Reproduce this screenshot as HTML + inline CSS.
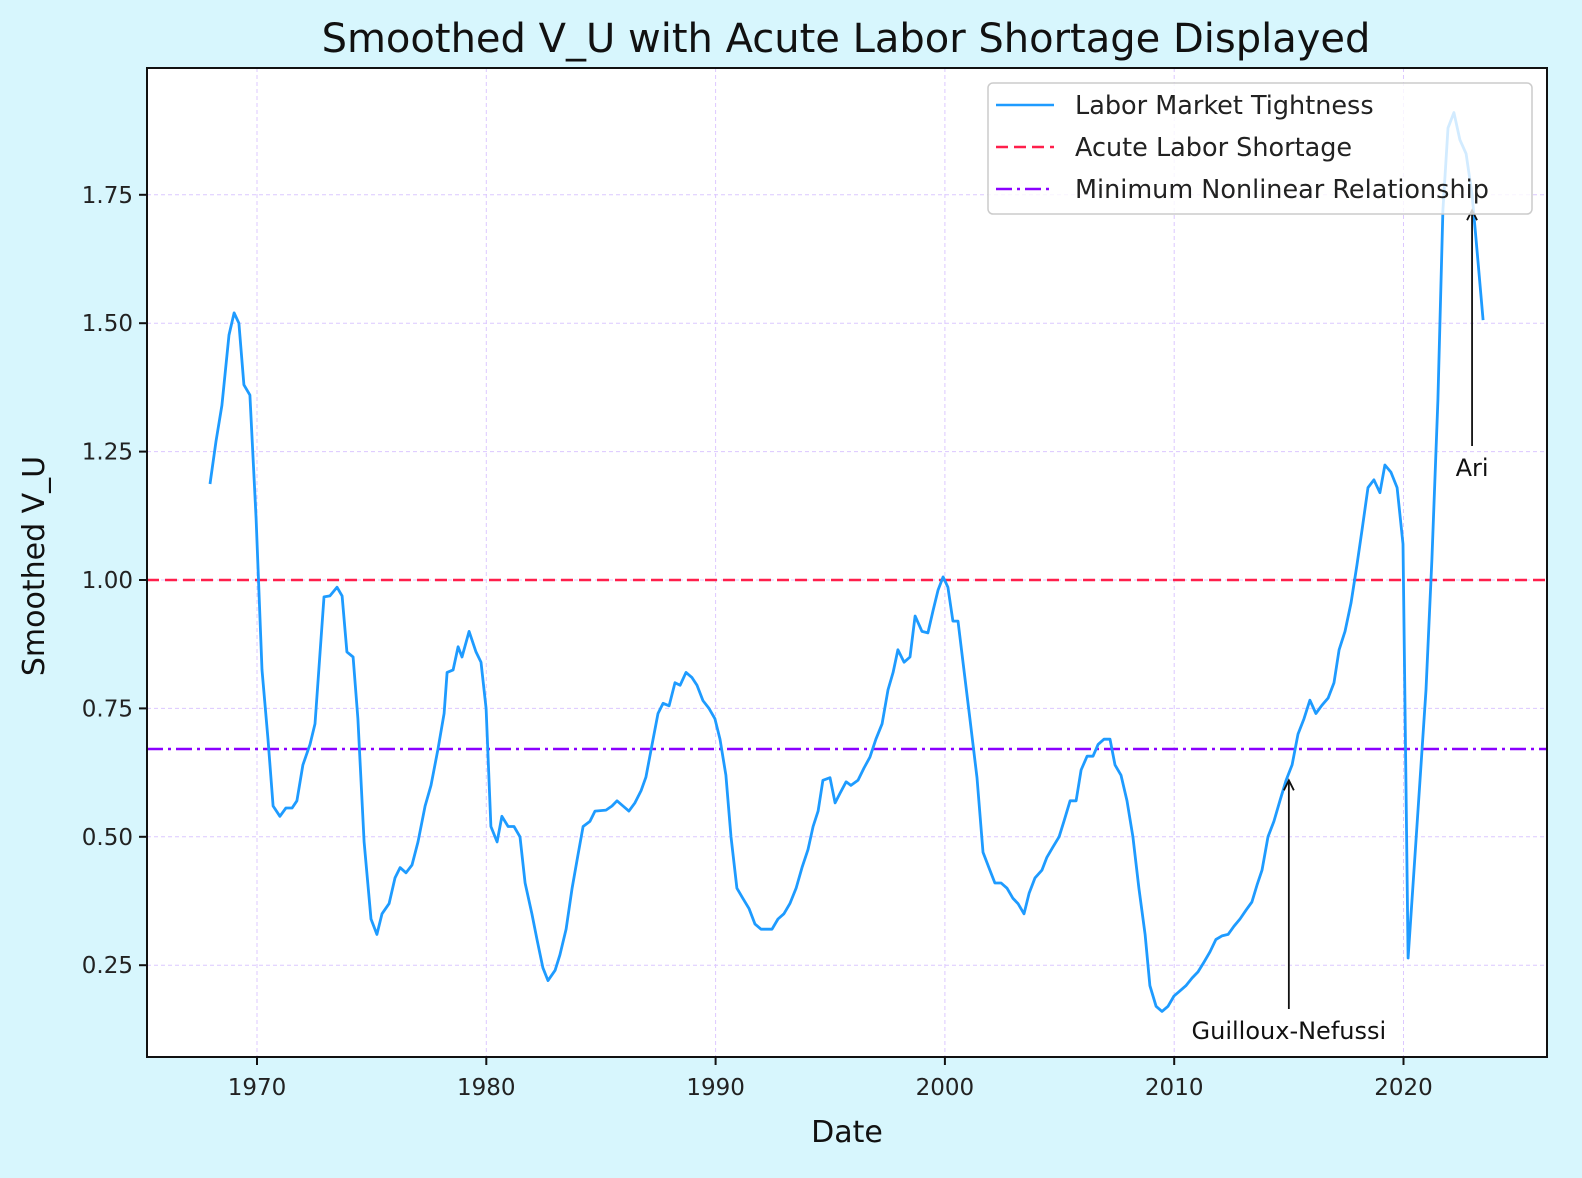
<!DOCTYPE html>
<html><head><meta charset="utf-8"><style>
html,body{margin:0;padding:0;background:#d7f6fd;}
svg{display:block;font-family:"DejaVu Sans","Liberation Sans",sans-serif;}
</style></head><body>
<svg id="chart" width="1582" height="1178" viewBox="0 0 1582 1178">
<rect x="0" y="0" width="1582" height="1178" fill="#d7f6fd"/>
<text x="846" y="52" font-size="40" text-anchor="middle" fill="#111">Smoothed V_U with Acute Labor Shortage Displayed</text>
<rect x="147" y="68" width="1400" height="989" fill="#fff"/>
<g id="grid"></g>
<g id="refs"></g>
<g id="series"></g>
<g id="annots"></g>
<g id="legend"></g>
<rect x="147" y="68" width="1400" height="989" fill="none" stroke="#111" stroke-width="2"/>
<g id="axes"></g>
<text x="847" y="1142" font-size="30" text-anchor="middle" fill="#111">Date</text>
<text x="0" y="0" font-size="30" text-anchor="middle" fill="#111" transform="translate(44,566) rotate(-90)">Smoothed V_U</text>
</svg>
<script>
const years = [1967.95,1968.21,1968.47,1968.78,1969.0,1969.21,1969.43,1969.69,1969.96,1970.22,1970.48,1970.70,1971.0,1971.26,1971.53,1971.74,1972.0,1972.31,1972.53,1972.92,1973.18,1973.49,1973.71,1973.92,1974.19,1974.40,1974.67,1974.97,1975.23,1975.45,1975.76,1976.02,1976.24,1976.50,1976.76,1977.02,1977.33,1977.59,1977.89,1978.16,1978.29,1978.55,1978.77,1978.94,1979.25,1979.55,1979.77,1979.99,1980.20,1980.47,1980.68,1980.95,1981.21,1981.47,1981.69,1981.99,1982.21,1982.47,1982.69,1983.00,1983.21,1983.48,1983.74,1984.0,1984.22,1984.52,1984.74,1985.22,1985.48,1985.70,1985.96,1986.22,1986.48,1986.75,1986.96,1987.23,1987.49,1987.71,1987.97,1988.23,1988.45,1988.71,1988.97,1989.19,1989.45,1989.71,1989.97,1990.19,1990.45,1990.67,1990.93,1991.19,1991.46,1991.72,1991.98,1992.20,1992.46,1992.72,1992.98,1993.24,1993.51,1993.77,1994.03,1994.25,1994.47,1994.68,1994.99,1995.21,1995.43,1995.69,1995.90,1996.21,1996.47,1996.73,1996.99,1997.26,1997.52,1997.74,1997.95,1998.22,1998.48,1998.70,1999.0,1999.26,1999.48,1999.70,1999.92,2000.13,2000.35,2000.57,2000.79,2001.09,2001.40,2001.66,2001.92,2002.18,2002.45,2002.71,2002.97,2003.19,2003.45,2003.67,2003.93,2004.23,2004.45,2004.71,2004.98,2005.19,2005.46,2005.72,2005.94,2006.20,2006.46,2006.68,2006.94,2007.20,2007.42,2007.68,2007.94,2008.20,2008.46,2008.73,2008.94,2009.21,2009.47,2009.73,2009.99,2010.25,2010.51,2010.78,2011.04,2011.30,2011.56,2011.82,2012.08,2012.35,2012.61,2012.87,2013.13,2013.39,2013.61,2013.83,2014.09,2014.35,2014.61,2014.88,2015.14,2015.40,2015.66,2015.92,2016.18,2016.44,2016.71,2016.97,2017.19,2017.45,2017.71,2017.97,2018.19,2018.45,2018.71,2018.97,2019.19,2019.45,2019.72,2019.98,2020.20,2020.46,2020.72,2020.98,2021.24,2021.50,2021.72,2021.94,2022.20,2022.46,2022.73,2022.99,2023.25,2023.47];
const tightness = [1.187,1.27,1.34,1.477,1.52,1.50,1.38,1.36,1.12,0.825,0.69,0.56,0.54,0.556,0.556,0.57,0.64,0.68,0.72,0.967,0.969,0.986,0.969,0.86,0.85,0.73,0.49,0.34,0.31,0.35,0.37,0.42,0.44,0.43,0.445,0.49,0.56,0.60,0.67,0.74,0.82,0.825,0.87,0.85,0.90,0.86,0.84,0.75,0.52,0.49,0.54,0.52,0.52,0.50,0.41,0.35,0.30,0.245,0.22,0.24,0.27,0.32,0.40,0.465,0.52,0.53,0.55,0.552,0.56,0.57,0.56,0.55,0.566,0.59,0.616,0.68,0.74,0.76,0.755,0.80,0.795,0.82,0.81,0.795,0.765,0.75,0.73,0.69,0.62,0.50,0.40,0.38,0.36,0.33,0.32,0.32,0.32,0.34,0.35,0.37,0.40,0.44,0.475,0.52,0.55,0.61,0.615,0.566,0.585,0.607,0.60,0.61,0.634,0.655,0.69,0.72,0.786,0.82,0.864,0.84,0.85,0.93,0.90,0.897,0.94,0.98,1.006,0.986,0.92,0.92,0.84,0.73,0.615,0.47,0.44,0.41,0.41,0.40,0.38,0.37,0.35,0.39,0.42,0.435,0.46,0.48,0.50,0.53,0.57,0.57,0.63,0.657,0.657,0.68,0.69,0.69,0.64,0.62,0.57,0.50,0.40,0.31,0.21,0.17,0.16,0.17,0.19,0.20,0.21,0.225,0.237,0.256,0.276,0.30,0.307,0.31,0.326,0.34,0.357,0.373,0.406,0.435,0.50,0.53,0.57,0.61,0.64,0.70,0.73,0.766,0.74,0.756,0.77,0.80,0.864,0.90,0.955,1.03,1.097,1.18,1.195,1.17,1.224,1.21,1.18,1.07,0.264,0.435,0.61,0.786,1.04,1.35,1.72,1.88,1.91,1.857,1.83,1.75,1.62,1.506];
const xTicks = [1970,1980,1990,2000,2010,2020];
const yTicks = [0.25,0.50,0.75,1.00,1.25,1.50,1.75];
const yTickLabels = ["0.25","0.50","0.75","1.00","1.25","1.50","1.75"];
const acuteLevel = [1.00];
const minNonlinearLevel = [0.671];
const annotYears = [2022.99, 2015.0];
const annotValues = [1.72, 0.61];
const annotLabels = ["Ari","Guilloux-Nefussi"];
const annotTextValues = [1.218, 0.122];

const L=147,R=1547,T=68,B=1057;
function xs(y){return 257+(y-1970)*22.93;}
function ys(v){return 580-(v-1)*513.6;}
const NS="http://www.w3.org/2000/svg";
function mk(tag,attrs,parent){const e=document.createElementNS(NS,tag);for(const k in attrs)e.setAttribute(k,attrs[k]);parent.appendChild(e);return e;}
const grid=document.getElementById('grid'),axes=document.getElementById('axes'),refs=document.getElementById('refs'),series=document.getElementById('series'),annots=document.getElementById('annots'),legend=document.getElementById('legend');

xTicks.forEach((t)=>{
  const x=xs(t);
  const g=mk('line',{x1:x,x2:x,y1:T,y2:B,stroke:'#dcc8ff','stroke-width':1,'stroke-dasharray':'4,3'},grid);
  
  
  const tk=mk('line',{x1:x,x2:x,y1:B,y2:B+8,stroke:'#111','stroke-width':2},axes);
  
  
  const tl=mk('text',{x:x,y:B+38,'font-size':23,'text-anchor':'middle',fill:'#222'},axes);
  tl.textContent=String(t);
  
  
});
yTicks.forEach((t,i)=>{
  const y=ys(t);
  const g=mk('line',{x1:L,x2:R,y1:y,y2:y,stroke:'#dcc8ff','stroke-width':1,'stroke-dasharray':'4,3'},grid);
  
  
  const tk=mk('line',{x1:L-8,x2:L,y1:y,y2:y,stroke:'#111','stroke-width':2},axes);
  
  
  const tl=mk('text',{x:L-14,y:y+8,'font-size':23,'text-anchor':'end',fill:'#222'},axes);
  tl.textContent=yTickLabels[i];
  
  
});
acuteLevel.forEach(v=>{
  const l=mk('line',{x1:L,x2:R,y1:ys(v),y2:ys(v),stroke:'#ff1f4b','stroke-width':2.5,'stroke-dasharray':'12,6'},refs);
  
  
});
minNonlinearLevel.forEach(v=>{
  const l=mk('line',{x1:L,x2:R,y1:ys(v),y2:ys(v),stroke:'#8a00ff','stroke-width':2.5,'stroke-dasharray':'16,5,3,5'},refs);
  
  
});
const pts=years.map((y,i)=>xs(y).toFixed(1)+','+ys(tightness[i]).toFixed(1)).join(' ');
const pl=mk('polyline',{points:pts,fill:'none',stroke:'#1e9bff','stroke-width':2.8,'stroke-linejoin':'round'},series);



annotYears.forEach((yr,i)=>{
  const x=xs(yr), yTip=ys(annotValues[i]);
  const yTxt=ys(annotTextValues[i]);
  const ln=mk('line',{x1:x,x2:x,y1:yTxt-22,y2:yTip+2,stroke:'#111','stroke-width':1.8},annots);
  
  
  const hd=mk('path',{d:`M${x-5},${yTip+10} L${x},${yTip} L${x+5},${yTip+10}`,fill:'none',stroke:'#111','stroke-width':1.8},annots);
  
  
  const tx=mk('text',{x:x,y:yTxt+8,'font-size':24,'text-anchor':'middle',fill:'#111'},annots);
  tx.textContent=annotLabels[i];
  
  
});

const box=mk('rect',{x:988,y:83,width:544,height:131,rx:5,fill:'rgba(255,255,255,0.8)',stroke:'#cccccc','stroke-width':1.5},legend);


const legLabels=["Labor Market Tightness","Acute Labor Shortage","Minimum Nonlinear Relationship"];
const legColors=["#1e9bff","#ff1f4b","#8a00ff"];
const legDash=["none","12,6","16,5,3,5"];
legLabels.forEach((lab,i)=>{
  const y=105+i*42;
  const s=mk('line',{x1:996,x2:1054,y1:y,y2:y,stroke:legColors[i],'stroke-width':2.6,'stroke-dasharray':legDash[i]},legend);
  
  
  const t=mk('text',{x:1075,y:y+9,'font-size':25.5,fill:'#222'},legend);
  t.textContent=lab;
  
  
});
</script>
</body></html>
